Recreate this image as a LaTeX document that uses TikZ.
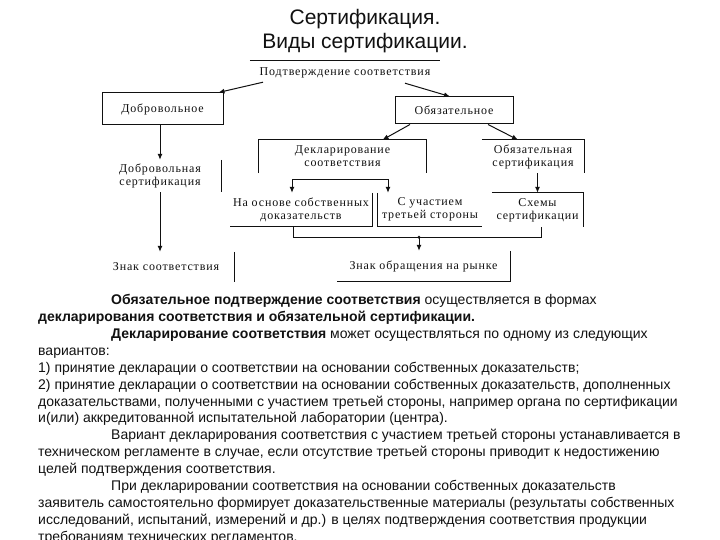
\documentclass[tikz,border=0pt]{standalone}
\usepackage{fontspec}
\setmainfont{Liberation Sans}
\newfontfamily\schemefont[LetterSpace=7]{Liberation Serif}
\usetikzlibrary{arrows.meta, calc}
\definecolor{ink}{HTML}{111111}

\begin{document}
\begin{tikzpicture}[x=1pt, y=-1pt,
    lbl/.style={font=\schemefont\fontsize{12}{13}\selectfont, align=center,
                inner sep=0pt, text=ink},
    frame/.style={lbl, draw=ink, line width=1pt},
    arr/.style={-{Latex[length=6pt,width=5pt]}, line width=1pt, draw=ink},
    edge/.style={line width=1pt, draw=ink}]
  \useasboundingbox[fill=white] (0,0) rectangle (720,540);

  \node[font=\fontsize{21}{24}\selectfont, align=center, text=ink] (title) at (365,31)
       {Сертификация.\\Виды сертификации.};

  % scheme
  \node[lbl, minimum width=190pt, minimum height=24pt] (podtv) at (345,73) {Подтверждение соответствия};
  \node[frame, minimum width=121pt, minimum height=32pt] (dobr)  at (162.5,109) {Добровольное};
  \node[frame, minimum width=118pt, minimum height=27pt] (obyaz) at (454,110.5) {Обязательное};
  \node[lbl, minimum width=122pt, minimum height=32pt] (dobrcert) at (160,176) {Добровольная\\сертификация};
  \node[lbl, minimum width=136pt, minimum height=30pt] (znak) at (166,267) {Знак соответствия};
  \node[lbl, minimum width=167pt, minimum height=33pt] (decl) at (342.5,156.5) {Декларирование\\соответствия};
  \node[lbl, minimum width=102pt, minimum height=33pt] (oblcert) at (533,156.5) {Обязательная\\сертификация};
  \node[lbl, minimum width=142pt, minimum height=33pt] (sobst) at (301,209.5) {На основе собственных\\доказательств};
  \node[lbl, minimum width=104pt, minimum height=33pt] (tret) at (430,209.5) {С участием\\третьей стороны};
  \node[lbl, minimum width=91pt, minimum height=34pt] (skhem) at (537.5,210) {Схемы\\сертификации};
  \node[lbl, minimum width=173pt, minimum height=30pt] (znakr) at (423.5,266) {Знак обращения на рынке};

  % open frames
  \draw[edge] (podtv.north west) -- (podtv.north east);
  \draw[edge] (dobrcert.north east) -- (dobrcert.south east);
  \draw[edge] (znak.north east) -- (znak.south east);
  \draw[edge] (decl.south west) |- (decl.north east) -- (decl.south east);
  \draw[edge] (oblcert.north west) -- (oblcert.north east) -- (oblcert.south east);
  \draw[edge] (sobst.north east) |- (sobst.south west);
  \draw[edge] (tret.north west) |- (tret.south east);
  \draw[edge] (skhem.north west) -- (skhem.north east) -- (skhem.south east);
  \draw[edge] (znakr.north east) |- (znakr.south west);

  % connectors
  \draw[arr] ([xshift=-82pt,yshift=3pt]podtv.south) -- ([xshift=-5pt]dobr.north east);
  \draw[arr] ([xshift=60pt,yshift=2pt]podtv.south) -- ([xshift=-4pt]obyaz.north);
  \draw[arr] (dobr.south -| dobrcert.north) -- (dobrcert.north);
  \draw[arr] (dobrcert.south) -- (dobrcert.south |- znak.north);
  \draw[arr] ([xshift=-44pt]obyaz.south) -- ([xshift=40pt]decl.north);
  \draw[arr] ([xshift=34pt]obyaz.south) -- ([xshift=-15pt]oblcert.north);
  \draw[arr] (oblcert.south -| skhem.north) -- (skhem.north);
  \draw[{Latex[length=6pt,width=5pt]}-{Latex[length=6pt,width=5pt]}, edge]
       ([xshift=-9pt]sobst.north) -- ++(0,-13) -| ([xshift=-42pt]tret.north);
  \draw[edge] ([xshift=-8pt]sobst.south) -- ++(0,11) -| ([xshift=3.5pt]skhem.south);
  \coordinate (join) at ([yshift=-11pt]sobst.south -| 419,0);
  \fill[ink] (join) circle (1.6pt);
  \draw[arr] (join) -- (join |- znakr.north);

  % text
  \node[anchor=north west, align=left, inner sep=0pt, text=ink,
        font=\fontsize{14}{16.93}\selectfont] (txt) at (38,294)
  {\hspace*{73pt}\textbf{Обязательное подтверждение соответствия} осуществляется в формах\\
   \textbf{декларирования соответствия и обязательной сертификации.}\\
   \hspace*{73pt}\textbf{Декларирование соответствия} может осуществляться по одному из следующих\\
   вариантов:\\
   1) принятие декларации о соответствии на основании собственных доказательств;\\
   2) принятие декларации о соответствии на основании собственных доказательств, дополненных\\
   доказательствами, полученными с участием третьей стороны, например органа по сертификации\\
   и(или) аккредитованной испытательной лаборатории (центра).\\
   \hspace*{73pt}Вариант декларирования соответствия с участием третьей стороны устанавливается в\\
   техническом регламенте в случае, если отсутствие третьей стороны приводит к недостижению\\
   целей подтверждения соответствия.\\
   \hspace*{73pt}При декларировании соответствия на основании собственных доказательств\\
   заявитель самостоятельно формирует доказательственные материалы (результаты собственных\\
   исследований, испытаний, измерений и др.) в целях подтверждения соответствия продукции\\
   требованиям технических регламентов.};
\end{tikzpicture}
\end{document}
